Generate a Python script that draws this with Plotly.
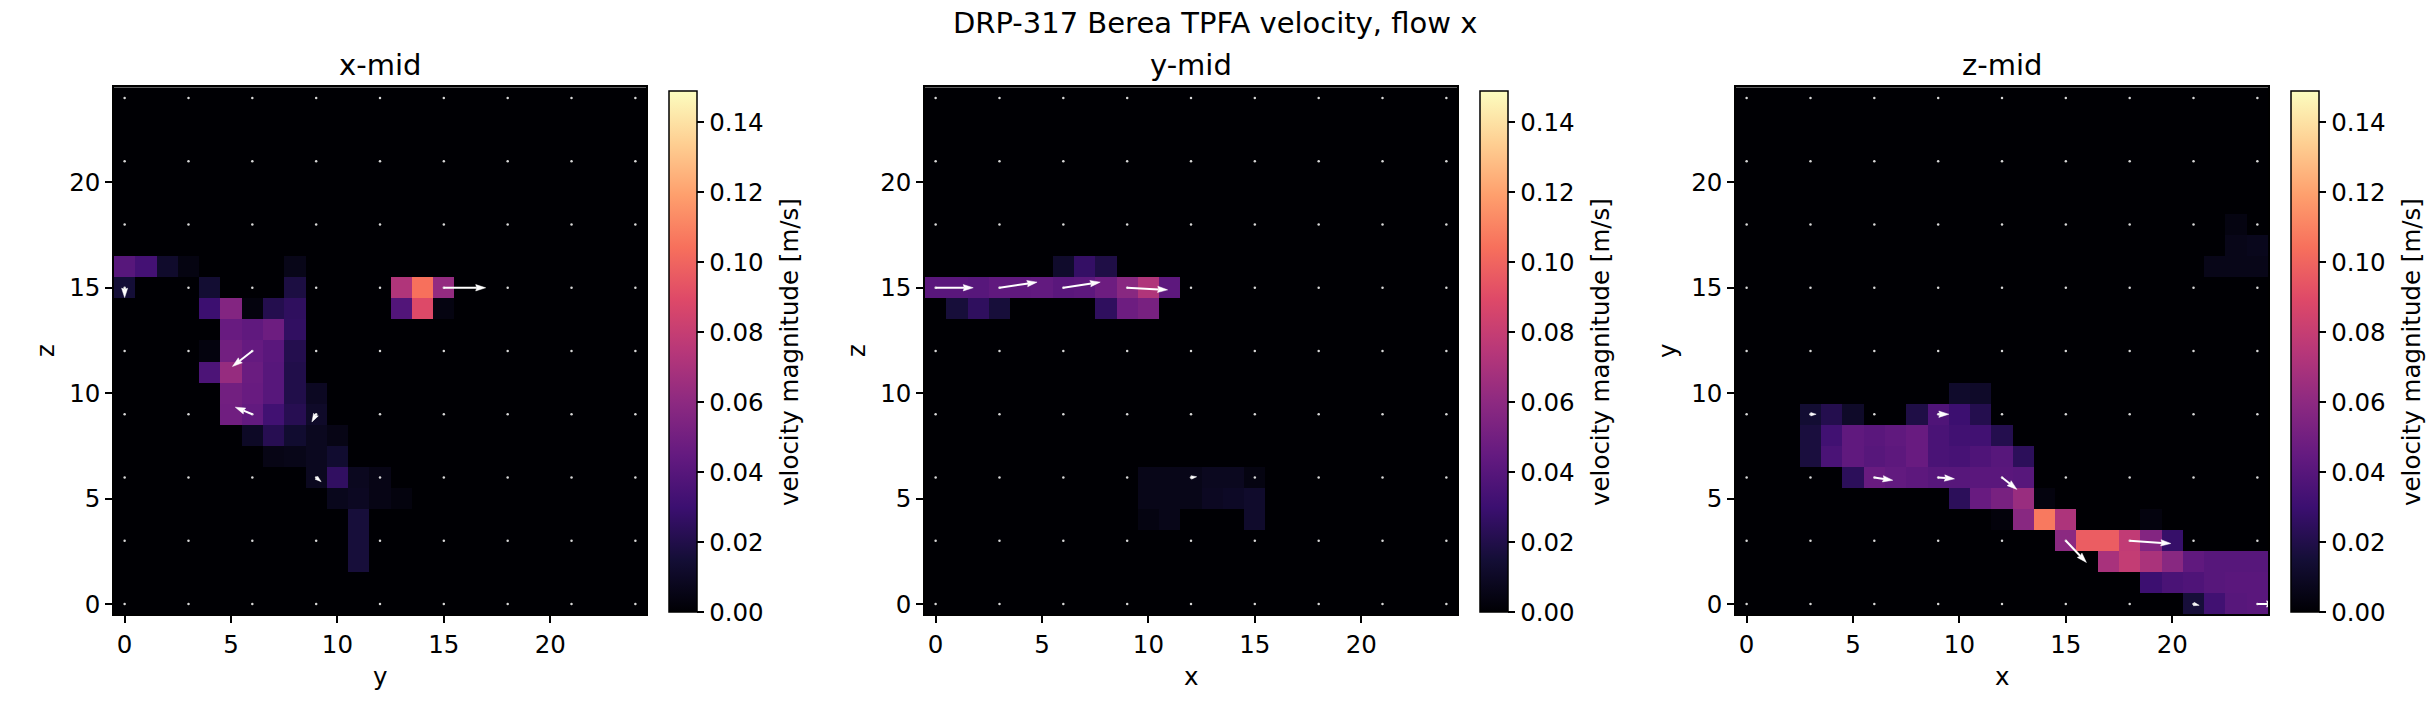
import numpy as np
import plotly.graph_objects as go

W, H = 2430, 702
N = 25
VMAX = 0.1487
FONT = "DejaVu Sans"

# ---- data: sparse rows {row: (start_col, [values...])}, velocity magnitude m/s
XMID_ROWS = {
    16: (0, [0.040, 0.033, 0.012, 0.004, 0, 0, 0, 0, 0.006]),
    15: (0, [0.015, 0, 0, 0, 0.014, 0, 0, 0, 0.018, 0, 0, 0, 0, 0.072, 0.104, 0.062]),
    14: (4, [0.030, 0.056, 0.003, 0.021, 0.025, 0, 0, 0, 0, 0.038, 0.089, 0.004]),
    13: (5, [0.046, 0.043, 0.048, 0.026]),
    12: (4, [0.003, 0.050, 0.045, 0.041, 0.021]),
    11: (4, [0.036, 0.063, 0.047, 0.040, 0.020]),
    10: (5, [0.050, 0.046, 0.040, 0.020, 0.009]),
    9: (5, [0.049, 0.044, 0.032, 0.022, 0.011]),
    8: (6, [0.010, 0.022, 0.013, 0.008, 0.005]),
    7: (7, [0.005, 0.006, 0.008, 0.013]),
    6: (9, [0.008, 0.026, 0.008, 0.005]),
    5: (10, [0.007, 0.009, 0.005, 0.003]),
    4: (11, [0.016]),
    3: (11, [0.016]),
    2: (11, [0.016]),
}
YMID_ROWS = {
    16: (6, [0.012, 0.027, 0.019]),
    15: (0, [0.041, 0.041, 0.040, 0.043, 0.043, 0.044, 0.041, 0.042, 0.048, 0.058, 0.072, 0.042]),
    14: (1, [0.016, 0.025, 0.016, 0, 0, 0, 0, 0.025, 0.048, 0.052]),
    6: (10, [0.006, 0.006, 0.006, 0.008, 0.008, 0.004]),
    5: (10, [0.006, 0.006, 0.006, 0.009, 0.010, 0.012]),
    4: (10, [0.004, 0.006, 0, 0, 0, 0.012]),
}
ZMID_ROWS = {
    18: (23, [0.004]),
    17: (23, [0.006, 0.007]),
    16: (22, [0.006, 0.006, 0.006]),
    10: (10, [0.012, 0.011]),
    9: (3, [0.014, 0.021, 0.011, 0, 0, 0.019, 0.037, 0.030, 0.021]),
    8: (3, [0.017, 0.032, 0.043, 0.041, 0.043, 0.046, 0.035, 0.032, 0.032, 0.021]),
    7: (3, [0.017, 0.035, 0.043, 0.040, 0.042, 0.046, 0.035, 0.034, 0.037, 0.040, 0.024]),
    6: (5, [0.024, 0.046, 0.044, 0.042, 0.040, 0.040, 0.041, 0.041, 0.040]),
    5: (10, [0.024, 0.046, 0.052, 0.064, 0.003]),
    4: (12, [0.002, 0.058, 0.107, 0.071, 0, 0, 0, 0.003]),
    3: (15, [0.059, 0.097, 0.097, 0.078, 0.056, 0.028]),
    2: (17, [0.069, 0.079, 0.070, 0.058, 0.043, 0.040, 0.040, 0.040]),
    1: (19, [0.030, 0.035, 0.037, 0.040, 0.041, 0.041]),
    0: (21, [0.016, 0.032, 0.040, 0.041]),
}

# quiver samples: (col, row, u, v) in m/s (in-plane components)
XMID_ARROWS = [(0, 15, 0.000, -0.014), (6, 12, -0.028, -0.022), (6, 9, -0.024, 0.010),
               (9, 9, -0.006, -0.011), (9, 6, 0.007, -0.006), (15, 15, 0.059, 0.000)]
YMID_ARROWS = [(0, 15, 0.053, 0.000), (3, 15, 0.053, 0.008), (6, 15, 0.052, 0.008),
               (9, 15, 0.057, -0.003), (12, 6, 0.008, 0.001)]
ZMID_ARROWS = [(3, 9, 0.008, 0.000), (9, 9, 0.015, 0.000), (6, 6, 0.026, -0.004),
               (9, 6, 0.023, -0.002), (12, 6, 0.021, -0.017), (15, 3, 0.029, -0.031),
               (18, 3, 0.058, -0.004), (21, 0, 0.008, -0.002), (24, 0, 0.027, 0.000)]
ARROW_SCALE = 1 / 0.03   # cells per m/s
STEP = 3

PANELS = [
    ("x-mid", "y", "z", XMID_ROWS, XMID_ARROWS),
    ("y-mid", "x", "z", YMID_ROWS, YMID_ARROWS),
    ("z-mid", "x", "y", ZMID_ROWS, ZMID_ARROWS),
]
CB_TICKS = [0.00, 0.02, 0.04, 0.06, 0.08, 0.10, 0.12, 0.14]
AX_TICKS = [0, 5, 10, 15, 20]

MAGMA = ["#000004", "#140e36", "#3b0f70", "#641a80", "#8c2981", "#b73779",
         "#de4968", "#f7705c", "#fe9f6d", "#fecf92", "#fcfdbf"]
colorscale = [[i / (len(MAGMA) - 1), c] for i, c in enumerate(MAGMA)]

# arrow geometry in cell units (quiver-like)
SHAFT_PX = 2.0
HEAD_LEN = 0.47
HEAD_AXIS = 0.42
HEAD_HW = 0.15

TICK_SIZE = 24.5
TITLE_SIZE = 29


def build(rows):
    g = np.zeros((N, N))
    for r, (c0, vals) in rows.items():
        for k, v in enumerate(vals):
            g[r, c0 + k] = v
    return g


fig = go.Figure()
annotations = []

PLOT_L, PLOT_W, GAP = 114, 532, 811
PLOT_T, PLOT_B = 88, 618
CB_L, CB_W, CB_T, CB_B = 669, 28, 92, 616


def px(x):
    return x / W


def py(y):
    return 1 - y / H


def add_arrow(c, r, u, v, xa, ya):
    dx, dy = u * ARROW_SCALE, v * ARROW_SCALE
    L = float(np.hypot(dx, dy))
    if L < 1e-9:
        return
    d = np.array([dx, dy]) / L
    n = np.array([-d[1], d[0]])
    s = min(1.0, L / (HEAD_LEN * 1.05))
    hl, ha, hw = HEAD_LEN * s, HEAD_AXIS * s, HEAD_HW * s
    tail = np.array([c, r], float)
    tip = tail + d * L
    back = tip - d * ha
    p1 = tip - d * hl + n * hw
    p2 = tip - d * hl - n * hw
    if L > ha:
        fig.add_trace(go.Scatter(x=[tail[0], back[0]], y=[tail[1], back[1]], mode="lines",
                                 line=dict(color="white", width=SHAFT_PX * max(s, 0.6)),
                                 xaxis=xa, yaxis=ya, hoverinfo="skip", showlegend=False))
    fig.add_trace(go.Scatter(x=[tip[0], p1[0], back[0], p2[0], tip[0]],
                             y=[tip[1], p1[1], back[1], p2[1], tip[1]],
                             mode="lines", fill="toself", fillcolor="white",
                             line=dict(color="white", width=0.5),
                             xaxis=xa, yaxis=ya, hoverinfo="skip", showlegend=False))


for i, (title, xl, yl, rows, arrows) in enumerate(PANELS):
    k = "" if i == 0 else str(i + 1)
    left = PLOT_L + GAP * i
    grid = build(rows)
    fig.add_trace(go.Heatmap(z=grid, x=np.arange(N), y=np.arange(N),
                             coloraxis="coloraxis" + k, xaxis="x" + k, yaxis="y" + k,
                             hoverinfo="skip"))
    pts = np.arange(0, N, STEP)
    gx, gy = np.meshgrid(pts, pts)
    fig.add_trace(go.Scatter(x=gx.ravel(), y=gy.ravel(), mode="markers",
                             marker=dict(size=2.5, color="#d8d8d8"),
                             xaxis="x" + k, yaxis="y" + k, hoverinfo="skip",
                             showlegend=False))
    for (c, r, u, v) in arrows:
        add_arrow(c, r, u, v, "x" + k, "y" + k)
    axcommon = dict(range=[-0.5, N - 0.5], tickvals=AX_TICKS, ticks="outside",
                    ticklen=7, tickwidth=1.6, tickcolor="black", showline=True,
                    linecolor="black", linewidth=1.5, mirror=True, showgrid=False,
                    zeroline=False, tickfont=dict(size=TICK_SIZE, family=FONT, color="black"))
    fig.layout["xaxis" + k] = dict(domain=[px(left), px(left + PLOT_W)], anchor="y" + k, **axcommon)
    fig.layout["yaxis" + k] = dict(domain=[py(PLOT_B), py(PLOT_T)], anchor="x" + k, **axcommon)
    cbl = CB_L + GAP * i
    fig.layout["coloraxis" + k] = dict(
        cmin=0, cmax=VMAX, colorscale=colorscale,
        colorbar=dict(x=px(cbl), xanchor="left", xpad=0, y=py(CB_T), yanchor="top", ypad=0,
                      len=(CB_B - CB_T) / H, lenmode="fraction", thickness=CB_W,
                      outlinewidth=1.5, outlinecolor="black",
                      tickvals=CB_TICKS, ticktext=[f"{t:.2f}" for t in CB_TICKS],
                      ticks="outside", ticklen=7, tickwidth=1.6, tickcolor="black",
                      tickfont=dict(size=TICK_SIZE, family=FONT, color="black")))
    cx = left + PLOT_W / 2
    annotations.append(dict(text=title, x=px(cx), y=py(65), xref="paper", yref="paper",
                            showarrow=False, font=dict(size=TITLE_SIZE, family=FONT, color="black"),
                            xanchor="center", yanchor="middle"))
    annotations.append(dict(text=xl, x=px(cx), y=py(680), xref="paper", yref="paper",
                            showarrow=False, font=dict(size=TICK_SIZE, family=FONT, color="black"),
                            xanchor="center", yanchor="middle"))
    annotations.append(dict(text=yl, x=px(left - 68), y=py((PLOT_T + PLOT_B) / 2),
                            xref="paper", yref="paper", textangle=-90,
                            showarrow=False, font=dict(size=TICK_SIZE, family=FONT, color="black"),
                            xanchor="center", yanchor="middle"))
    annotations.append(dict(text="velocity magnitude [m/s]", x=px(cbl + 121),
                            y=py((CB_T + CB_B) / 2), xref="paper", yref="paper",
                            textangle=-90, showarrow=False,
                            font=dict(size=TICK_SIZE, family=FONT, color="black"),
                            xanchor="center", yanchor="middle"))

annotations.append(dict(text="DRP-317 Berea TPFA velocity, flow x", x=0.5, y=py(23),
                        xref="paper", yref="paper", showarrow=False,
                        font=dict(size=TITLE_SIZE, family=FONT, color="black"),
                        xanchor="center", yanchor="middle"))

fig.update_layout(width=W, height=H, margin=dict(l=0, r=0, t=0, b=0),
                  paper_bgcolor="white", plot_bgcolor="black",
                  annotations=annotations, showlegend=False,
                  font=dict(family=FONT, color="black"))
fig.write_html("out.html")
